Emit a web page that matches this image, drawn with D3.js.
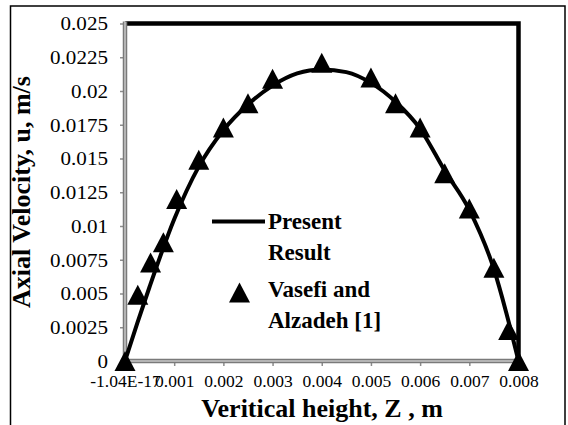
<!DOCTYPE html>
<html>
<head>
<meta charset="utf-8">
<script src="https://cdn.jsdelivr.net/npm/d3@7"></script>
<style>
  html, body { margin: 0; padding: 0; background: #fff; }
  svg { display: block; }
  svg text { font-family: "Liberation Serif", Tinos, "Times New Roman", serif; fill: #000; }
</style>
</head>
<body>
<svg id="chart" width="568" height="425"></svg>
<script>
// Present result: axial velocity profile across the channel height
const presentZ = [0, 0.00025, 0.0005, 0.001, 0.0015, 0.002, 0.0025, 0.003, 0.0035, 0.004,
                  0.0045, 0.005, 0.0055, 0.006, 0.0065, 0.007, 0.0075, 0.00775, 0.008];
const presentU = [0, 0.0028, 0.0055, 0.0105, 0.0144, 0.0171, 0.0190, 0.0204, 0.0213, 0.0216,
                  0.0214, 0.0206, 0.0192, 0.0172, 0.0141, 0.0112, 0.0068, 0.0036, 0];

// Vasefi and Alzadeh [1] reference points
const vasefiZ = [0, 0.00026, 0.00052, 0.00078, 0.00105, 0.0015, 0.002, 0.0025, 0.003, 0.004,
                 0.005, 0.0055, 0.006, 0.0065, 0.007, 0.0075, 0.0078, 0.008];
const vasefiU = [0, 0.0049, 0.0073, 0.0088, 0.0120, 0.0149, 0.0173, 0.0191, 0.0209, 0.0221,
                 0.0210, 0.0191, 0.0173, 0.0139, 0.0113, 0.0069, 0.0023, 0];

const xTicks = [0, 0.001, 0.002, 0.003, 0.004, 0.005, 0.006, 0.007, 0.008];
const xTickLabels = ["-1.04E-17", "0.001", "0.002", "0.003", "0.004", "0.005", "0.006", "0.007", "0.008"];
const yTicks = [0, 0.0025, 0.005, 0.0075, 0.01, 0.0125, 0.015, 0.0175, 0.02, 0.0225, 0.025];
const yTickLabels = ["0", "0.0025", "0.005", "0.0075", "0.01", "0.0125", "0.015", "0.0175", "0.02", "0.0225", "0.025"];

const legendNames = [["Present", "Result"], ["Vasefi and", "Alzadeh [1]"]];
const xTitle = "Veritical height, Z , m";
const yTitle = "Axial Velocity, u, m/s";

const SERIF = '"Liberation Serif", Tinos, "Times New Roman", serif';

const svg = d3.select("#chart");

const plot = { left: 125, right: 518.5, top: 23.5, bottom: 361 };
const x = d3.scaleLinear().domain([0, 0.008]).range([plot.left, plot.right]);
const y = d3.scaleLinear().domain([0, 0.025]).range([plot.bottom, plot.top]);

// outer chart frame (open at the bottom)
svg.append("path")
  .attr("d", "M10.5,425 L10.5,6 L565,6 L565,425")
  .attr("fill", "none").attr("stroke", "#000").attr("stroke-width", 1.5);

// heavy top and right border of the plot area
svg.append("path")
  .attr("d", `M${plot.left},${plot.top} L${plot.right},${plot.top} L${plot.right},${plot.bottom}`)
  .attr("fill", "none").attr("stroke", "#000").attr("stroke-width", 4.5);

// y axis (labels drawn slightly wide)
const yLabelStretch = 1.14;
const yAxis = d3.axisLeft(y).tickValues(yTicks).tickSize(5)
  .tickFormat((d, i) => yTickLabels[i]);
const gy = svg.append("g").attr("transform", `translate(${plot.left},0)`).call(yAxis)
  .attr("font-family", SERIF);
gy.select(".domain").remove();
gy.selectAll(".tick line").attr("stroke", "#8c8c8c").attr("stroke-width", 1.5);
gy.selectAll(".tick text")
  .attr("x", -17 / yLabelStretch).attr("dy", "0.34em")
  .attr("transform", `scale(${yLabelStretch},1)`)
  .style("font-size", "18.5px").style("font-family", SERIF);

// x axis
const xAxis = d3.axisBottom(x).tickValues(xTicks).tickSize(5)
  .tickFormat((d, i) => xTickLabels[i]);
const gx = svg.append("g").attr("transform", `translate(0,${plot.bottom})`).call(xAxis)
  .attr("font-family", SERIF);
gx.select(".domain").remove();
gx.selectAll(".tick line").attr("stroke", "#8c8c8c").attr("stroke-width", 1.5);
gx.selectAll(".tick text")
  .attr("y", 14).attr("dy", "0.71em")
  .style("font-size", "17.5px").style("font-family", SERIF);

// gray double-rule axis lines
function axisRule(x1, y1, x2, y2) {
  svg.append("line").attr("x1", x1).attr("y1", y1).attr("x2", x2).attr("y2", y2)
    .attr("stroke", "#7a7a7a").attr("stroke-width", 4.5);
  svg.append("line").attr("x1", x1).attr("y1", y1).attr("x2", x2).attr("y2", y2)
    .attr("stroke", "#c8c8c8").attr("stroke-width", 1.5);
}
axisRule(plot.left, plot.top - 2, plot.left, plot.bottom + 2);
axisRule(plot.left, plot.bottom, plot.right, plot.bottom);

// present result curve
const lineGen = d3.line()
  .x(d => x(d[0])).y(d => y(d[1]))
  .curve(d3.curveMonotoneX);
svg.append("path")
  .datum(presentZ.map((z, i) => [z, presentU[i]]))
  .attr("d", lineGen)
  .attr("fill", "none").attr("stroke", "#000").attr("stroke-width", 4)
  .attr("stroke-linejoin", "round");

// triangle markers
const triW = 21, triH = 20;
function triPath(cx, cy) {
  return `M${cx},${cy - triH / 2} L${cx + triW / 2},${cy + triH / 2} L${cx - triW / 2},${cy + triH / 2} Z`;
}
svg.append("g").selectAll("path")
  .data(vasefiZ.map((z, i) => [z, vasefiU[i]]))
  .join("path")
  .attr("d", d => triPath(x(d[0]), y(d[1])))
  .attr("fill", "#000");

// legend
const lg = svg.append("g");
lg.append("line").attr("x1", 212).attr("x2", 265).attr("y1", 221.5).attr("y2", 221.5)
  .attr("stroke", "#000").attr("stroke-width", 4);
lg.append("path").attr("d", triPath(239.5, 292.5)).attr("fill", "#000");
const legendBaselines = [[229, 260], [297, 328]];
legendNames.forEach((lines, k) => {
  lines.forEach((t, j) => {
    lg.append("text").attr("x", 268).attr("y", legendBaselines[k][j])
      .style("font-family", SERIF)
      .style("font-size", "23px").style("font-weight", "bold").text(t);
  });
});

// axis titles
svg.append("text").attr("x", 322).attr("y", 417).attr("text-anchor", "middle")
  .style("font-family", SERIF)
  .style("font-size", "26px").style("font-weight", "bold").text(xTitle);
svg.append("text")
  .attr("transform", "translate(30,192) rotate(-90)")
  .attr("text-anchor", "middle")
  .style("font-family", SERIF)
  .style("font-size", "26px").style("font-weight", "bold").text(yTitle);
</script>
</body>
</html>
